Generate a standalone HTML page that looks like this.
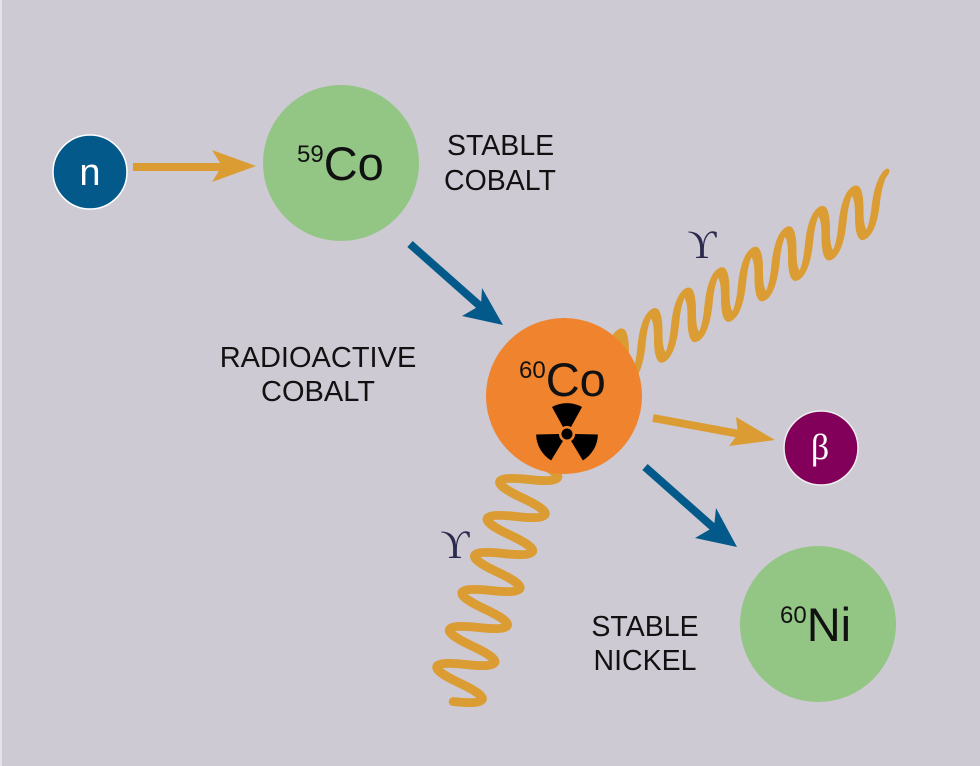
<!DOCTYPE html>
<html><head><meta charset="utf-8"><style>
html,body{margin:0;padding:0;background:#cdcad3;}
svg{display:block}
</style></head><body>
<svg width="980" height="766" viewBox="0 0 980 766" xmlns="http://www.w3.org/2000/svg" font-family="Liberation Sans, sans-serif">
<rect width="980" height="766" fill="#cdcad3"/>
<rect x="0" y="0" width="2" height="766" fill="#e4e2e8"/>

<!-- waves -->
<g transform="matrix(1,-0.61,-0.05,1,608,366)" fill="none" stroke="#db9d33" stroke-width="8.5" stroke-linecap="round">
<path d="M0 0 c1.5 -36 15.25 -36 16.75 0 s15.25 36 16.75 0 s15.25 -36 16.75 0 s15.25 36 16.75 0 s15.25 -36 16.75 0 s15.25 36 16.75 0 s15.25 -36 16.75 0 s15.25 36 16.75 0 s15.25 -36 16.75 0 s15.25 36 16.75 0 s15.25 -36 16.75 0 s15.25 36 16.75 0 s15.25 -36 16.75 0 s15.25 36 16.75 0 s15.25 -36 16.75 0 s15.25 36 16.75 0 c1 -12 4 -22 8 -24"/>
</g>
<g transform="matrix(1,0.28,-0.34,1,535,461)" fill="none" stroke="#db9d33" stroke-width="8.5" stroke-linecap="round">
<path d="M0 0 c34.5 5.5 34.5 13 0 18.5 s-34.5 13 0 18.5 s34.5 13 0 18.5 s-34.5 13 0 18.5 s34.5 13 0 18.5 s-34.5 13 0 18.5 s34.5 13 0 18.5 s-34.5 13 0 18.5 s34.5 13 0 18.5 s-34.5 13 0 18.5 s34.5 13 0 18.5 s-34.5 13 0 18.5 s34.5 13 0 18.5"/>
</g>

<!-- n -->
<circle cx="90" cy="172" r="37" fill="#035a8a" stroke="#fff" stroke-width="1.5"/>
<text x="90" y="185" font-size="38" fill="#fff" text-anchor="middle">n</text>

<!-- orange arrow n->59Co -->
<line x1="133" y1="167" x2="225" y2="167" stroke="#db9d33" stroke-width="8"/>
<polygon points="212,150 256,166 212,182 222,166" fill="#db9d33"/>

<!-- 59Co -->
<circle cx="341" cy="163" r="78" fill="#93c585"/>
<text x="297" y="180" font-size="47" fill="#111"><tspan font-size="24" dy="-18">59</tspan><tspan dy="18">Co</tspan></text>
<text x="447" y="155" font-size="28.5" fill="#111">STABLE</text>
<text x="444" y="190" font-size="28.5" fill="#111">COBALT</text>

<!-- blue arrow 1 -->
<line x1="410" y1="244" x2="480" y2="306" stroke="#035a8a" stroke-width="8"/>
<polygon points="462,316 503,325 482,288 481,305" fill="#035a8a"/>

<text x="318" y="367" font-size="29" fill="#111" text-anchor="middle">RADIOACTIVE</text>
<text x="318" y="401" font-size="29" fill="#111" text-anchor="middle">COBALT</text>

<!-- 60Co -->
<circle cx="564" cy="396" r="78" fill="#ef832e"/>
<text x="519" y="396" font-size="47" fill="#111"><tspan font-size="24" dy="-18">60</tspan><tspan dy="18">Co</tspan></text>
<!-- radiation symbol -->
<g transform="translate(567,434)" fill="#000">
<path d="M-15,-27 A31,31 0 0 1 15,-27 L4,-7 A8,8 0 0 0 -4,-7 Z"/>
<path d="M-15,-27 A31,31 0 0 1 15,-27 L4,-7 A8,8 0 0 0 -4,-7 Z" transform="rotate(120)"/>
<path d="M-15,-27 A31,31 0 0 1 15,-27 L4,-7 A8,8 0 0 0 -4,-7 Z" transform="rotate(240)"/>
<circle r="5.5"/>
</g>

<!-- gamma labels -->
<text x="702" y="258" font-size="40" fill="#2b2a4e" text-anchor="middle" style="font-family:'Liberation Serif',serif">ϒ</text>
<text x="455" y="558" font-size="40" fill="#2b2a4e" text-anchor="middle" style="font-family:'Liberation Serif',serif">ϒ</text>

<!-- beta arrow -->
<line x1="653" y1="418" x2="745" y2="435" stroke="#db9d33" stroke-width="8"/>
<polygon points="736,417 775,440 729,446 738,434" fill="#db9d33"/>
<circle cx="821" cy="448" r="37" fill="#82005a" stroke="#eee" stroke-width="1.5"/>
<text x="820" y="459" font-size="36" fill="#fff" text-anchor="middle" style="font-family:'Liberation Serif',serif">β</text>

<!-- blue arrow 2 -->
<line x1="645" y1="467" x2="715" y2="529" stroke="#035a8a" stroke-width="8"/>
<polygon points="695,538 737,547 716,508 714,527" fill="#035a8a"/>

<!-- 60Ni -->
<circle cx="818" cy="624" r="78" fill="#93c585"/>
<text x="780" y="641" font-size="47" fill="#111"><tspan font-size="24" dy="-18">60</tspan><tspan dy="18">Ni</tspan></text>
<text x="645" y="636" font-size="28.5" fill="#111" text-anchor="middle">STABLE</text>
<text x="645" y="670" font-size="28.5" fill="#111" text-anchor="middle">NICKEL</text>
</svg>
</body></html>
